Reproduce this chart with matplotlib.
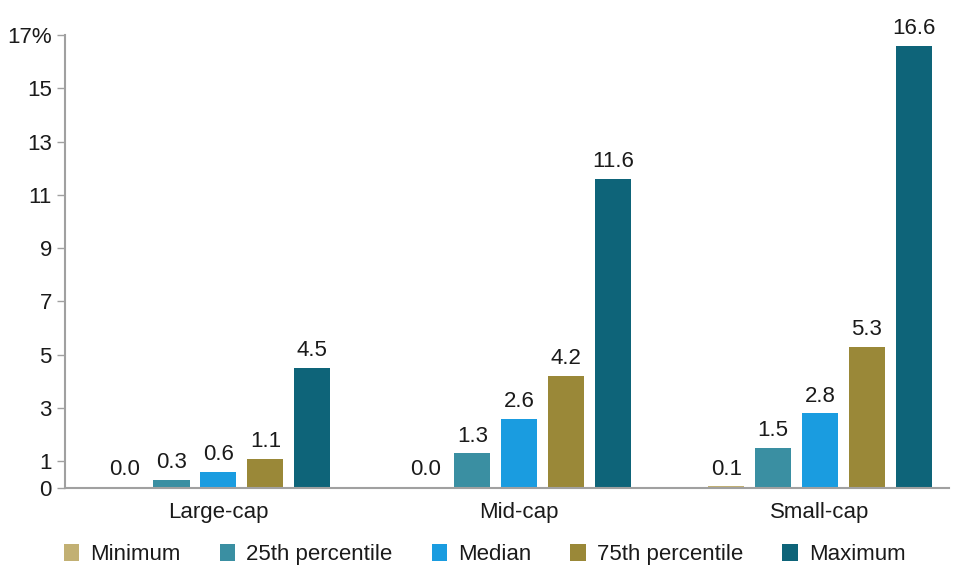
import matplotlib.pyplot as plt
import numpy as np

plt.rcParams['font.family'] = ['Liberation Sans', 'DejaVu Sans']

categories = ['Large-cap', 'Mid-cap', 'Small-cap']
series = ['Minimum', '25th percentile', 'Median', '75th percentile', 'Maximum']
values = {
    'Minimum': [0.04, 0.04, 0.06],
    '25th percentile': [0.3, 1.3, 1.5],
    'Median': [0.6, 2.6, 2.8],
    '75th percentile': [1.1, 4.2, 5.3],
    'Maximum': [4.5, 11.6, 16.6],
}
colors = ['#C2B073', '#3A8FA2', '#1A9CE0', '#9A8838', '#0E6479']
yticks = [0, 1, 3, 5, 7, 9, 11, 13, 15, 17]
ytick_labels = ['0', '1', '3', '5', '7', '9', '11', '13', '15', '17%']

fig = plt.figure(figsize=(9.75, 5.88), dpi=100)
ax = fig.add_axes([0.0667, 0.17, 0.907, 0.7705])

x = np.arange(len(categories))
step = 0.156
width = 0.12
handles = []
for i, s in enumerate(series):
    pos = x + (i - 2) * step
    vals = values[s]
    b = ax.bar(pos, vals, width, color=colors[i], label=s, zorder=2)
    handles.append(b)
    for p, v in zip(pos, vals):
        ax.text(p, v + 0.25, f'{v:.1f}', ha='center', va='bottom', fontsize=16, color='#1a1a1a')

ax.set_xlim(-0.51, 2.43)
ax.set_ylim(0, 17)
ax.set_yticks(yticks)
ax.set_yticklabels(ytick_labels)
ax.set_xticks(x)
ax.set_xticklabels(categories)
for sp in ['top', 'right']:
    ax.spines[sp].set_visible(False)
for sp in ['left', 'bottom']:
    ax.spines[sp].set_color('#A0A0A0')
    ax.spines[sp].set_linewidth(1.5)
ax.tick_params(axis='y', length=6, color='#A0A0A0', labelsize=16, labelcolor='#1a1a1a', width=1)
ax.tick_params(axis='x', length=0, labelsize=16, labelcolor='#1a1a1a', pad=10)

fig.legend(handles=handles, labels=series, loc='lower left', bbox_to_anchor=(0.045, 0.005),
           ncol=5, frameon=False, fontsize=16, handlelength=0.7, handleheight=0.8,
           handletextpad=0.5, columnspacing=1.75, labelcolor='#1a1a1a')

fig.savefig('out.png', dpi=100)
